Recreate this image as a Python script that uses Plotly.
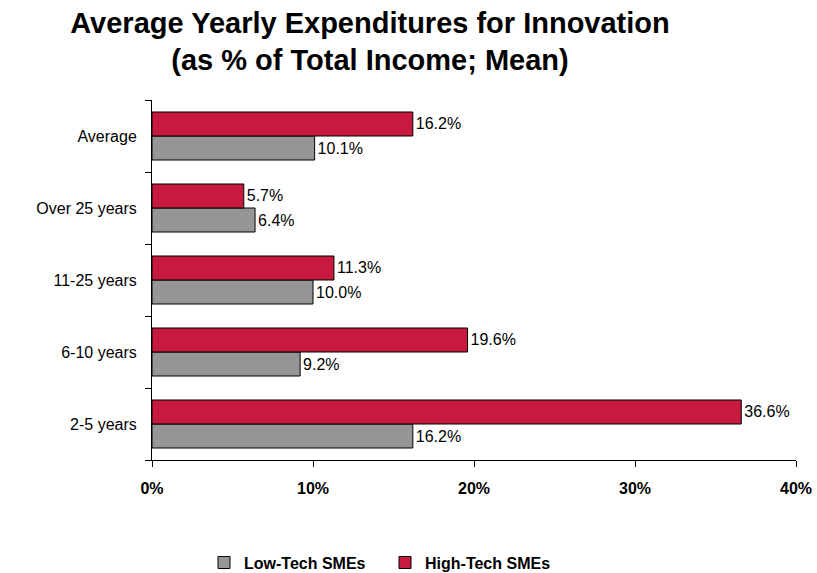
import plotly.graph_objects as go

# Firm age groups (bottom to top) and mean innovation spend as % of total income
categories = ["2-5 years", "6-10 years", "11-25 years", "Over 25 years", "Average"]
low_tech = [16.2, 9.2, 10.0, 6.4, 10.1]
high_tech = [36.6, 19.6, 11.3, 5.7, 16.2]
x_ticks = [0, 10, 20, 30, 40]
x_tick_labels = ["0%", "10%", "20%", "30%", "40%"]

FONT = "Arial, Liberation Sans, sans-serif"

fig = go.Figure()
fig.add_trace(go.Bar(
    name="Low-Tech SMEs", y=categories, x=low_tech, orientation="h",
    marker=dict(color="#969696", line=dict(color="#000000", width=1)),
    text=[f"{v:.1f}%" for v in low_tech], textposition="outside",
    textfont=dict(size=16, color="#000000", family=FONT),
    cliponaxis=False,
))
fig.add_trace(go.Bar(
    name="High-Tech SMEs", y=categories, x=high_tech, orientation="h",
    marker=dict(color="#C8193F", line=dict(color="#000000", width=1)),
    text=[f"{v:.1f}%" for v in high_tech], textposition="outside",
    textfont=dict(size=16, color="#000000", family=FONT),
    cliponaxis=False,
))

fig.update_layout(
    width=817, height=573,
    margin=dict(l=152, r=21, t=100, b=113, autoexpand=False),
    paper_bgcolor="white", plot_bgcolor="white",
    barmode="group", bargap=0.333, bargroupgap=0,
    font=dict(family=FONT, size=16, color="#000000"),
    title=dict(
        text="<b>Average Yearly Expenditures for Innovation<br>(as % of Total Income; Mean)</b>",
        x=370 / 817, xanchor="center", xref="container",
        y=0.943, yanchor="top", yref="container",
        font=dict(size=29, family=FONT, color="#000000"),
    ),
    xaxis=dict(
        range=[0, 40], tickvals=x_ticks, ticktext=x_tick_labels,
        showgrid=False, zeroline=False, showline=True, linecolor="#000000", linewidth=1,
        ticks="outside", ticklen=6, tickcolor="#000000",
        tickfont=dict(size=16, family=FONT, color="#000000", weight="bold"),
        ticklabelstandoff=8,
    ),
    yaxis=dict(
        type="category", categoryorder="array", categoryarray=categories,
        showgrid=False, zeroline=False, showline=True, linecolor="#000000", linewidth=1,
        ticks="outside", ticklen=6, tickcolor="#000000", tickson="boundaries",
        tickfont=dict(size=16, family=FONT, color="#000000"),
        ticklabelstandoff=11,
    ),
    legend=dict(
        orientation="h", x=(204 - 152) / 644, xanchor="left",
        y=-0.285, yanchor="middle", traceorder="normal",
        font=dict(size=16, family=FONT, color="#000000", weight="bold"),
        entrywidth=136,
    ),
    showlegend=True,
)

fig.write_html("out.html")
